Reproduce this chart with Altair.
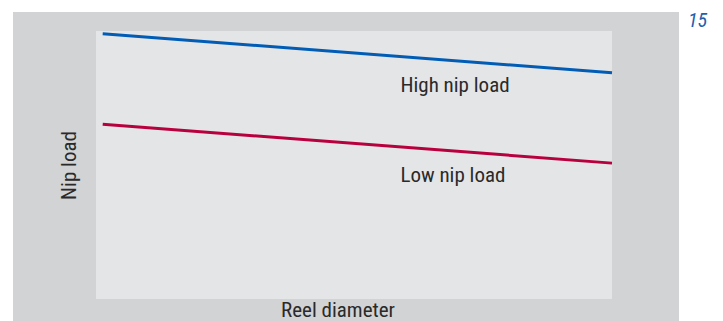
import altair as alt
import pandas as pd

# ---- data (conceptual chart, arbitrary units) ----
series = ["High nip load", "Low nip load"]
reel_diameter = [1.3, 100.0]
high_load = [99.0, 84.4]
low_load = [65.2, 50.7]
label_x = [59.0, 59.0]
label_y = [77.4, 43.8]
line_colors = ["#005cb4", "#b8003e"]
figure_number = "15"
x_title = "Reel diameter"
y_title = "Nip load"

rows = []
for s, vals in zip(series, [high_load, low_load]):
    for x, y in zip(reel_diameter, vals):
        rows.append({"series": s, "d": x, "load": y})
lines_df = pd.DataFrame(rows)
labels_df = pd.DataFrame({"series": series, "d": label_x, "load": label_y})
area_df = pd.DataFrame({"x0": [0.0], "x1": [100.0], "y0": [0.0], "y1": [100.0]})

FONT = "Liberation Sans Narrow, Roboto Condensed, Roboto, sans-serif"
TXT = "#2a2a2a"
xs = alt.Scale(domain=[0, 100], range=[88, 604])
ys = alt.Scale(domain=[0, 100], range=[291, 23])

outer = alt.Chart(alt.Data(values=[{}])).mark_rect(color="#d2d3d5").encode(
    x=alt.value(5), x2=alt.value(671), y=alt.value(4), y2=alt.value(313)
)

inner = alt.Chart(area_df).mark_rect(color="#e4e5e7").encode(
    x=alt.X("x0:Q", scale=xs, axis=None),
    x2="x1:Q",
    y=alt.Y("y0:Q", scale=ys, axis=None),
    y2="y1:Q",
)

lines = alt.Chart(lines_df).mark_line(strokeWidth=3, clip=False).encode(
    x=alt.X("d:Q", scale=xs, axis=None),
    y=alt.Y("load:Q", scale=ys, axis=None),
    color=alt.Color("series:N", scale=alt.Scale(domain=series, range=line_colors), legend=None),
    detail="series:N",
)

labels = alt.Chart(labels_df).mark_text(
    align="left", baseline="alphabetic", font=FONT, fontSize=21, color=TXT
).encode(
    x=alt.X("d:Q", scale=xs, axis=None),
    y=alt.Y("load:Q", scale=ys, axis=None),
    text="series:N",
)

xt = alt.Chart(alt.Data(values=[{"t": x_title}])).mark_text(
    align="center", baseline="alphabetic", font=FONT, fontSize=21, color=TXT
).encode(x=alt.value(330), y=alt.value(309), text="t:N")

yt = alt.Chart(alt.Data(values=[{"t": y_title}])).mark_text(
    align="center", baseline="alphabetic", font=FONT, fontSize=21, color=TXT, angle=270
).encode(x=alt.value(68), y=alt.value(157.5), text="t:N")

fig = alt.Chart(alt.Data(values=[{"t": figure_number}])).mark_text(
    align="left", baseline="alphabetic", font=FONT, fontSize=20, fontStyle="italic",
    color="#1f5fae",
).encode(x=alt.value(680), y=alt.value(19), text="t:N")

chart = alt.layer(outer, inner, lines, labels, xt, yt, fig).properties(
    width=707, height=313,
    autosize=alt.AutoSizeParams(type="none"),
    padding=0,
    view=alt.ViewBackground(stroke="transparent", strokeWidth=0, strokeOpacity=0),
).configure_view(stroke="transparent", strokeWidth=0, strokeOpacity=0).configure(background="white")

chart.save("out.html", embed_options={"renderer": "svg", "actions": False})
